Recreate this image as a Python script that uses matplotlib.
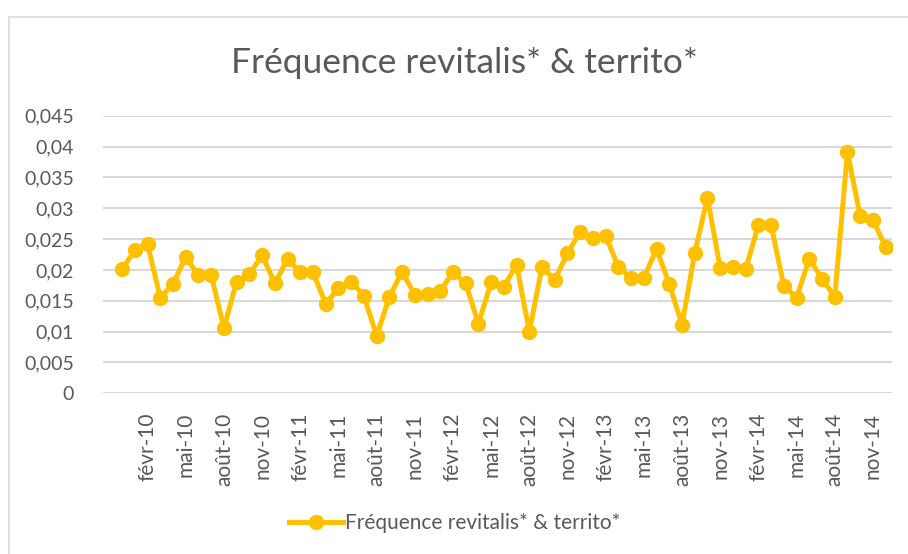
import numpy as np
import matplotlib
matplotlib.use("Agg")
import matplotlib.pyplot as plt
from matplotlib.patches import Rectangle

# monthly values, déc-09 .. déc-14 (first category nov-09 is empty)
months = ['nov-09', 'déc-09',
          'janv-10', 'févr-10', 'mars-10', 'avr-10', 'mai-10', 'juin-10',
          'juil-10', 'août-10', 'sept-10', 'oct-10', 'nov-10', 'déc-10',
          'janv-11', 'févr-11', 'mars-11', 'avr-11', 'mai-11', 'juin-11',
          'juil-11', 'août-11', 'sept-11', 'oct-11', 'nov-11', 'déc-11',
          'janv-12', 'févr-12', 'mars-12', 'avr-12', 'mai-12', 'juin-12',
          'juil-12', 'août-12', 'sept-12', 'oct-12', 'nov-12', 'déc-12',
          'janv-13', 'févr-13', 'mars-13', 'avr-13', 'mai-13', 'juin-13',
          'juil-13', 'août-13', 'sept-13', 'oct-13', 'nov-13', 'déc-13',
          'janv-14', 'févr-14', 'mars-14', 'avr-14', 'mai-14', 'juin-14',
          'juil-14', 'août-14', 'sept-14', 'oct-14', 'nov-14', 'déc-14']
freq = [np.nan,
        0.0201, 0.0232, 0.0242, 0.0155, 0.0177, 0.0221, 0.0191, 0.0192,
        0.0106, 0.0181, 0.0193, 0.0224, 0.0178, 0.0218, 0.0196, 0.0196,
        0.0145, 0.0171, 0.0181, 0.0158, 0.0093, 0.0156, 0.0197, 0.0160,
        0.0161, 0.0166, 0.0196, 0.0178, 0.0113, 0.0180, 0.0173, 0.0208,
        0.0100, 0.0205, 0.0184, 0.0227, 0.0262, 0.0252, 0.0255, 0.0205,
        0.0187, 0.0187, 0.0234, 0.0177, 0.0111, 0.0228, 0.0317, 0.0203,
        0.0204, 0.0201, 0.0273, 0.0273, 0.0174, 0.0155, 0.0218, 0.0186,
        0.0156, 0.0391, 0.0287, 0.0281, 0.0237]
yticks = [0, 0.005, 0.01, 0.015, 0.02, 0.025, 0.03, 0.035, 0.04, 0.045]
ylabels = ['0', '0,005', '0,01', '0,015', '0,02', '0,025', '0,03', '0,035', '0,04', '0,045']
title = 'Fréquence revitalis* & territo*'

txt = '#595959'
gold = '#FFC000'
plt.rcParams['font.family'] = ['Lato', 'DejaVu Sans']

fig = plt.figure(figsize=(9.08, 5.54), dpi=100)
fig.patches.append(Rectangle((8.5 / 908, -0.1), 1.2, (554 - 17) / 554 + 0.1,
                             transform=fig.transFigure, fill=False,
                             edgecolor='#d9d9d9', linewidth=1.2))

ax = fig.add_axes([103 / 908, 1 - 393.3 / 554, 789 / 908, (393.3 - 115.7) / 554])
x = np.arange(len(months))
ax.plot(x, freq, color=gold, linewidth=3.6, marker='o', markersize=10,
        markeredgecolor=gold, label=title, zorder=3)

ax.set_xlim(-0.5, len(months) - 0.5)
ax.set_ylim(0, 0.045)
ax.set_yticks(yticks)
ax.set_yticklabels(ylabels)
shown = list(range(3, len(months), 3))
ax.set_xticks(shown)
ax.set_xticklabels([months[i] for i in shown], rotation=90)
ax.tick_params(axis='both', length=0, colors=txt, labelsize=15)
ax.tick_params(axis='y', pad=21, labelsize=14)
ax.tick_params(axis='x', pad=14)
ax.grid(axis='y', color='#d9d9d9', linewidth=1.5)
ax.set_axisbelow(True)
for s in ax.spines.values():
    s.set_visible(False)

fig.text(464 / 908, 1 - 63 / 554, title, ha='center', va='center',
         fontsize=25.5, color=txt)
fig.legend(loc='center', bbox_to_anchor=(455 / 908, 1 - 523 / 554),
           frameon=False, fontsize=15, labelcolor=txt,
           handlelength=2.6, handletextpad=0.1)

fig.savefig('out.png', dpi=100)
